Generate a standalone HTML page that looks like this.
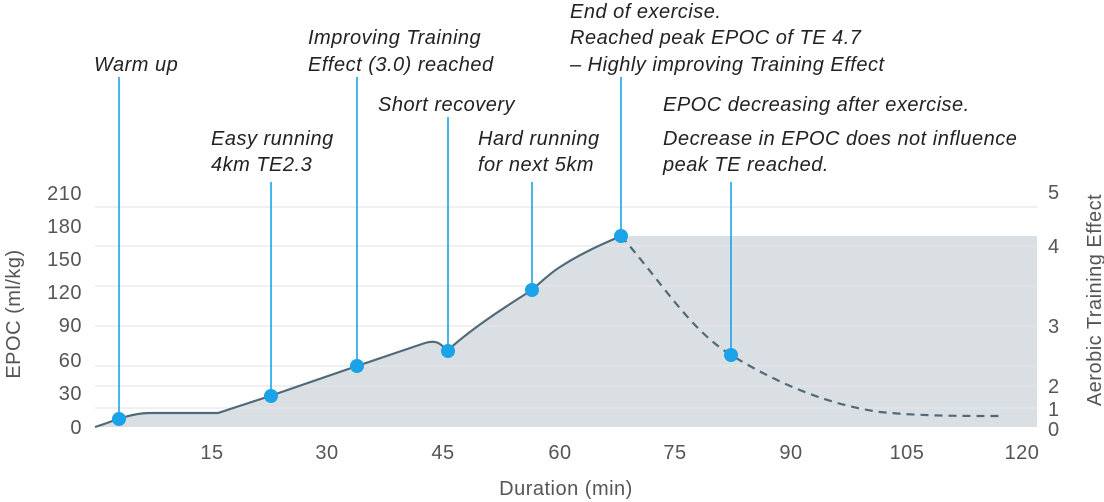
<!DOCTYPE html>
<html><head><meta charset="utf-8"><style>
html,body{margin:0;padding:0;background:#fff;}
svg{display:block;}
text{font-family:"Liberation Sans",sans-serif;letter-spacing:0.5px;}
</style></head><body>
<svg width="1104" height="502" viewBox="0 0 1104 502" xmlns="http://www.w3.org/2000/svg">
<path d="M95,427 C105,424 112,421 118,419 C128,416 138,413 150,413 L218,413 L270,396 L357,366 L425,343 C435,340 440,342 447,351 C470,330 500,310 532,290 C545,278 552,272 560,267 C580,254 600,245 621,236 L1037,236 L1037,427 Z" fill="#d9dfe3"/>
<g stroke="#e4e7ea" stroke-width="1.2">
<line x1="95" y1="207" x2="1037" y2="207"/>
<line x1="95" y1="246" x2="1037" y2="246"/>
<line x1="95" y1="286" x2="1037" y2="286"/>
<line x1="95" y1="326" x2="1037" y2="326"/>
<line x1="95" y1="366" x2="1037" y2="366"/>
<line x1="95" y1="386" x2="1037" y2="386"/>
<line x1="95" y1="408" x2="1037" y2="408"/>
</g>
<path d="M95,427 C105,424 112,421 118,419 C128,416 138,413 150,413 L218,413 L270,396 L357,366 L425,343 C435,340 440,342 447,351 C470,330 500,310 532,290 C545,278 552,272 560,267 C580,254 600,245 621,236" fill="none" stroke="#52697a" stroke-width="2.2"/>
<path d="M621,236 C660,280 690,330 731,355 C780,385 830,405 880,412 C920,416 960,416 1000,416" fill="none" stroke="#52697a" stroke-width="2.2" stroke-dasharray="8,6"/>
<g stroke="#1aa3e8" stroke-width="1.6">
<line x1="119" y1="77" x2="119" y2="419"/>
<line x1="271" y1="182" x2="271" y2="396"/>
<line x1="357" y1="77" x2="357" y2="366"/>
<line x1="448" y1="117" x2="448" y2="351"/>
<line x1="532" y1="182" x2="532" y2="290"/>
<line x1="621" y1="77" x2="621" y2="236"/>
<line x1="731" y1="182" x2="731" y2="355"/>
</g>
<g fill="#1aa3e8">
<circle cx="119" cy="419" r="7"/><circle cx="271" cy="396" r="7"/><circle cx="357" cy="366" r="7"/>
<circle cx="448" cy="351" r="7"/><circle cx="532" cy="290" r="7"/><circle cx="621" cy="236" r="7"/><circle cx="731" cy="355" r="7"/>
</g>
<g font-size="20" font-style="italic" fill="#222">
<text x="94" y="71">Warm up</text>
<text x="211" y="145">Easy running</text><text x="211" y="171">4km TE2.3</text>
<text x="308" y="44">Improving Training</text><text x="308" y="71">Effect (3.0) reached</text>
<text x="378" y="111">Short recovery</text>
<text x="478" y="145">Hard running</text><text x="478" y="171">for next 5km</text>
<text x="570" y="18">End of exercise.</text><text x="570" y="44">Reached peak EPOC of TE 4.7</text><text x="570" y="71">– Highly improving Training Effect</text>
<text x="663" y="111">EPOC decreasing after exercise.</text><text x="663" y="145">Decrease in EPOC does not influence</text><text x="663" y="171">peak TE reached.</text>
</g>
<g font-size="20" fill="#555" text-anchor="end">
<text x="82" y="200">210</text><text x="82" y="233">180</text><text x="82" y="266">150</text>
<text x="82" y="299">120</text><text x="82" y="332">90</text><text x="82" y="367">60</text>
<text x="82" y="400">30</text><text x="82" y="434">0</text>
</g>
<text transform="translate(20,314) rotate(-90)" font-size="20" fill="#555" text-anchor="middle">EPOC (ml/kg)</text>
<g font-size="20" fill="#555">
<text x="1048" y="199">5</text><text x="1048" y="253">4</text><text x="1048" y="333">3</text>
<text x="1048" y="393">2</text><text x="1048" y="416">1</text><text x="1048" y="436">0</text>
</g>
<text transform="translate(1101,300) rotate(-90)" font-size="20" fill="#555" text-anchor="middle">Aerobic Training Effect</text>
<g font-size="20" fill="#555" text-anchor="middle">
<text x="212" y="459">15</text><text x="327" y="459">30</text><text x="443" y="459">45</text>
<text x="560" y="459">60</text><text x="675" y="459">75</text><text x="791" y="459">90</text>
<text x="907" y="459">105</text><text x="1022" y="459">120</text>
</g>
<text x="566" y="495" font-size="20" fill="#555" text-anchor="middle">Duration (min)</text>
</svg>
</body></html>
